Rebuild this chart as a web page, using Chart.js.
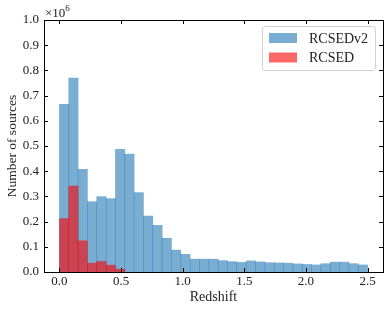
<!DOCTYPE html>
<html>
<head>
<meta charset="utf-8">
<script src="https://cdn.jsdelivr.net/npm/chart.js@4/dist/chart.umd.min.js"></script>
<style>
    html, body { margin: 0; padding: 0; background: #fff; }
    canvas { display: block; }
</style>
</head>
<body>
<canvas id="chart" width="390" height="312"></canvas>
<script>
// Bin centres of the redshift histogram (33 bins between 0 and 2.5)
const binCenters = [
    0.0379, 0.1136, 0.1894, 0.2652, 0.3409, 0.4167, 0.4924, 0.5682, 0.6439, 0.7197,
    0.7955, 0.8712, 0.9470, 1.0227, 1.0985, 1.1742, 1.2500, 1.3258, 1.4015, 1.4773,
    1.5530, 1.6288, 1.7045, 1.7803, 1.8561, 1.9318, 2.0076, 2.0833, 2.1591, 2.2348,
    2.3106, 2.3864, 2.4621
];

// Counts per bin, in units of 10^6
const rcsedV2Counts = [
    0.665, 0.770, 0.407, 0.279, 0.299, 0.291, 0.487, 0.468, 0.315, 0.222,
    0.185, 0.134, 0.087, 0.070, 0.051, 0.051, 0.051, 0.045, 0.041, 0.038,
    0.044, 0.040, 0.037, 0.036, 0.035, 0.032, 0.030, 0.028, 0.033, 0.039,
    0.039, 0.033, 0.028
];
const rcsedCounts = [0.212, 0.341, 0.124, 0.035, 0.042, 0.027, 0.011];

const xTickValues = [0, 0.5, 1.0, 1.5, 2.0, 2.5];
const yTickValues = [0, 0.1, 0.2, 0.3, 0.4, 0.5, 0.6, 0.7, 0.8, 0.9, 1.0];

const FONT = "'Liberation Serif', 'Times New Roman', serif";
const BLUE = 'rgba(31, 119, 180, 0.6)';
const RED = 'rgba(255, 0, 0, 0.6)';

const toPoints = (values) => values.map((v, i) => ({ x: binCenters[i], y: v }));

// Inward ticks on all four sides, spines, the x10^6 offset and the legend box
const framePlugin = {
    id: 'frame',
    afterDraw(chart) {
        const { ctx, chartArea: a, scales } = chart;
        ctx.save();
        ctx.strokeStyle = '#000';
        ctx.lineWidth = 1;
        ctx.beginPath();
        xTickValues.forEach(v => {
            const px = Math.round(scales.x.getPixelForValue(v)) + 0.5;
            ctx.moveTo(px, a.bottom); ctx.lineTo(px, a.bottom - 4);
            ctx.moveTo(px, a.top); ctx.lineTo(px, a.top + 4);
        });
        yTickValues.forEach(v => {
            const py = Math.round(scales.y.getPixelForValue(v)) + 0.5;
            ctx.moveTo(a.left, py); ctx.lineTo(a.left + 4, py);
            ctx.moveTo(a.right, py); ctx.lineTo(a.right - 4, py);
        });
        ctx.stroke();
        ctx.strokeRect(Math.round(a.left) + 0.5, Math.round(a.top) + 0.5,
            Math.round(a.right - a.left), Math.round(a.bottom - a.top));

        // offset text
        ctx.fillStyle = '#222';
        ctx.textBaseline = 'alphabetic';
        ctx.textAlign = 'left';
        ctx.font = `13px ${FONT}`;
        ctx.fillText('\u00d710', a.left + 1, a.top - 3);
        const w = ctx.measureText('\u00d710').width;
        ctx.font = `9px ${FONT}`;
        ctx.fillText('6', a.left + 1 + w, a.top - 9);

        // legend
        const bx = 262.5, by = 26.5, bw = 113, bh = 44;
        ctx.beginPath();
        ctx.roundRect(bx, by, bw, bh, 3);
        ctx.fillStyle = 'rgba(255,255,255,0.8)';
        ctx.fill();
        ctx.strokeStyle = '#d0d0d0';
        ctx.stroke();
        const items = chart.data.datasets;
        ctx.font = `14px ${FONT}`;
        ctx.textBaseline = 'middle';
        items.forEach((ds, i) => {
            const cy = 38 + i * 19.5;
            ctx.fillStyle = ds.backgroundColor;
            ctx.fillRect(269, cy - 5, 28, 10);
            ctx.fillStyle = '#222';
            ctx.fillText(ds.label, 309, cy + 1);
        });
        ctx.restore();
    }
};

new Chart(document.getElementById('chart'), {
    type: 'bar',
    data: {
        datasets: [
            {
                label: 'RCSEDv2',
                data: toPoints(rcsedV2Counts),
                backgroundColor: BLUE,
                borderWidth: 0,
                order: 1
            },
            {
                label: 'RCSED',
                data: toPoints(rcsedCounts),
                backgroundColor: RED,
                borderWidth: 0,
                order: 0
            }
        ]
    },
    options: {
        responsive: false,
        animation: false,
        devicePixelRatio: 1,
        layout: { padding: { top: 20, right: 7, left: 0, bottom: 0 } },
        datasets: {
            bar: { grouped: false, barPercentage: 1, categoryPercentage: 1 }
        },
        plugins: {
            legend: { display: false },
            tooltip: { enabled: false }
        },
        scales: {
            x: {
                type: 'linear',
                min: -0.125,
                max: 2.625,
                offset: false,
                grid: { display: false, drawTicks: false },
                border: { display: false },
                afterBuildTicks: scale => { scale.ticks = xTickValues.map(v => ({ value: v })); },
                afterFit: scale => { scale.height = 40; },
                ticks: {
                    padding: 2,
                    maxRotation: 0,
                    color: '#222',
                    font: { family: FONT, size: 13 },
                    callback: v => v.toFixed(1)
                },
                title: {
                    display: true,
                    text: 'Redshift',
                    color: '#222',
                    font: { family: FONT, size: 14 },
                    padding: { top: 0, bottom: 6 }
                }
            },
            y: {
                min: 0,
                max: 1.0,
                grid: { display: false, drawTicks: false },
                border: { display: false },
                afterBuildTicks: scale => { scale.ticks = yTickValues.map(v => ({ value: v })); },
                afterFit: scale => { scale.width = 44; },
                ticks: {
                    padding: 5,
                    color: '#222',
                    font: { family: FONT, size: 13 },
                    callback: v => v.toFixed(1)
                },
                title: {
                    display: true,
                    text: 'Number of sources',
                    color: '#222',
                    font: { family: FONT, size: 13.5 },
                    padding: { top: 4, bottom: 0 }
                }
            }
        }
    },
    plugins: [framePlugin]
});
</script>
</body>
</html>
